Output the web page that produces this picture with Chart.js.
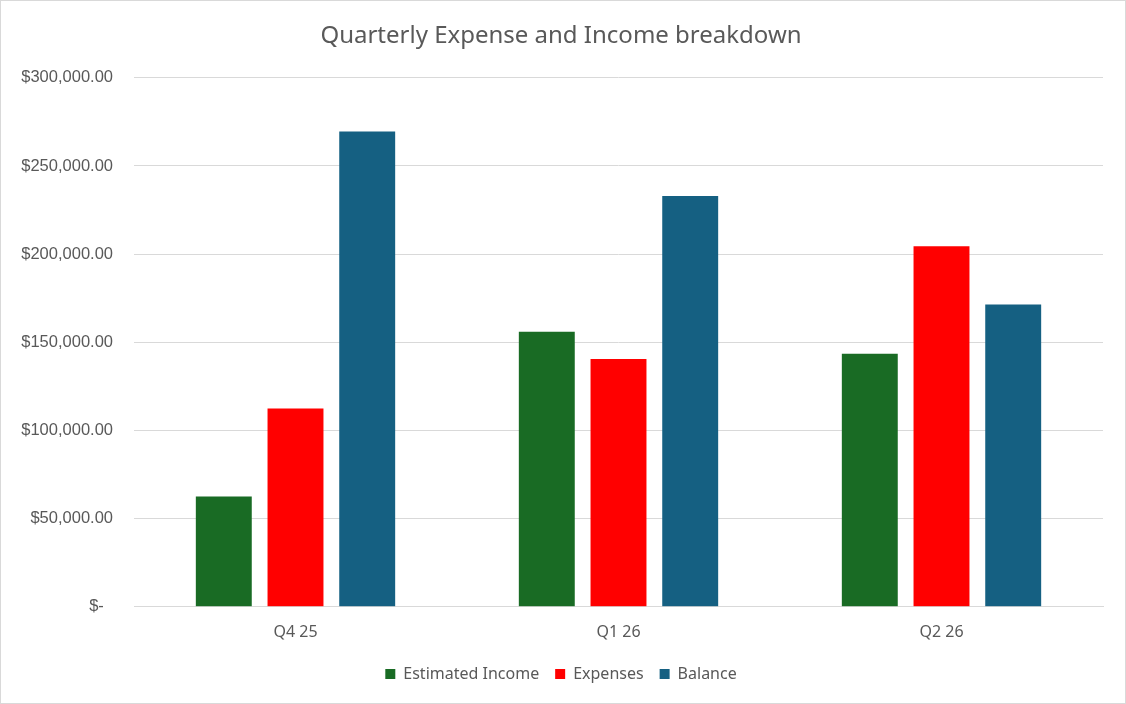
<!DOCTYPE html>
<html>
<head>
<meta charset="utf-8">
<script src="https://cdn.jsdelivr.net/npm/chart.js@4.4.1/dist/chart.umd.min.js"></script>
<style>
  html, body { margin: 0; padding: 0; background: #fff; }
  .marco { width: 1124px; height: 702px; border: 1px solid #d9d9d9; }
</style>
</head>
<body>
<div class="marco"><canvas id="grafica" width="1124" height="702"></canvas></div>
<script>
// datos
var trimestres = ['Q4 25', 'Q1 26', 'Q2 26'];
var ingresoEstimado = [62500, 156000, 143500];
var gastos = [112500, 140500, 204500];
var balance = [269500, 233000, 171500];
var marcasY = [0, 50000, 100000, 150000, 200000, 250000, 300000];

var gris = '#595959';

function formatoDinero(v){
    if (v == 0) return '$-  ';
    return '$' + v.toLocaleString('en-US', {minimumFractionDigits: 2, maximumFractionDigits: 2});
}

var ctx = document.getElementById('grafica').getContext('2d');

var chart = new Chart(ctx, {
    type: 'bar',
    data: {
        labels: trimestres,
        datasets: [
            { label: 'Estimated Income', data: ingresoEstimado, backgroundColor: '#196b24' },
            { label: 'Expenses', data: gastos, backgroundColor: '#ff0000' },
            { label: 'Balance', data: balance, backgroundColor: '#156082' }
        ]
    },
    options: {
        responsive: false,
        animation: false,
        categoryPercentage: 0.666,
        barPercentage: 0.78,
        layout: { padding: { left: 18, right: 22, top: 8, bottom: 11 } },
        plugins: {
            title: {
                display: true,
                text: 'Quarterly Expense and Income breakdown',
                color: gris,
                font: { family: 'Noto Sans', size: 24, weight: 'normal' },
                padding: { top: 13, bottom: 27 }
            },
            legend: {
                position: 'bottom',
                labels: {
                    color: gris,
                    font: { family: 'Noto Sans', size: 16 },
                    boxWidth: 10,
                    boxHeight: 10,
                    padding: 16
                }
            },
            tooltip: { enabled: false }
        },
        scales: {
            x: {
                grid: { display: false },
                border: { color: '#d9d9d9' },
                ticks: { color: gris, font: { family: 'Noto Sans', size: 16 }, padding: 8 }
            },
            y: {
                min: 0,
                max: 300000,
                afterBuildTicks: function(eje){
                    eje.ticks = marcasY.map(function(v){ return { value: v }; });
                },
                afterFit: function(eje){
                    eje.width = 115;
                },
                grid: { color: '#d9d9d9', drawTicks: false },
                border: { display: false },
                ticks: {
                    color: gris,
                    font: { family: 'Liberation Sans', size: 16.5 },
                    padding: 21,
                    callback: function(v){ return formatoDinero(v); }
                }
            }
        }
    }
});
</script>
</body>
</html>
